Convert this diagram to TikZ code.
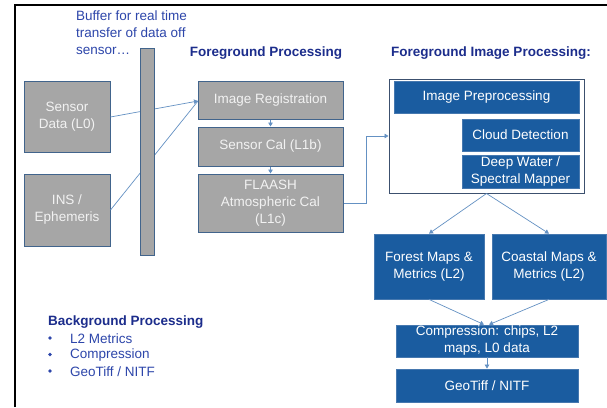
\documentclass[tikz,border=0pt]{standalone}
\usepackage{fontspec}
\setmainfont{Liberation Sans}
\usetikzlibrary{arrows.meta}

\definecolor{grayfill}{RGB}{166,166,166}
\definecolor{grayedge}{RGB}{65,100,140}
\definecolor{graytext}{RGB}{242,242,242}
\definecolor{bluefill}{RGB}{26,92,160}
\definecolor{blueedge}{RGB}{70,120,175}
\definecolor{linkblue}{RGB}{100,145,195}
\definecolor{titleblue}{RGB}{28,45,140}
\definecolor{noteblue}{RGB}{45,70,170}
\definecolor{frameedge}{RGB}{60,80,110}

\tikzset{
  txt/.style={font=\fontsize{13.5}{17}\selectfont},
  graybox/.style={txt, draw=grayedge, fill=grayfill, text=graytext, line width=1pt,
    align=center, inner sep=0pt},
  bluebox/.style={txt, draw=blueedge, fill=bluefill, text=white, line width=0.8pt,
    align=center, inner sep=0pt},
  heading/.style={font=\bfseries\fontsize{13.5}{17}\selectfont, text=titleblue, inner sep=0pt},
  link/.style={draw=linkblue, line width=0.7pt},
  linkarrow/.style={link, -{Triangle[length=4pt,width=4.5pt]}},
}

\begin{document}
\begin{tikzpicture}[x=1pt,y=-1pt]
\useasboundingbox (0,0) rectangle (607,407);
\fill[white] (0,0) rectangle (607,407);

% page frame (top and left rules)
\draw[line width=2pt, black] (15,407) -- (15,5) -- (607,5);

% buffer caption
\node[txt, text=noteblue, align=left, anchor=north west, inner sep=0pt] (bufcap) at (76,11)
  {Buffer for real time\\transfer of data off\\sensor…};

% input boxes
\node[graybox, minimum width=86, minimum height=71] (sdata) at (67,116.5) {Sensor\\Data (L0)};
\node[graybox, minimum width=86, minimum height=72] (ins) at (67,210) {INS /\\Ephemeris};

% foreground processing chain
\node[heading] (fgtitle) at (266,53) {Foreground Processing};
\node[graybox, minimum width=145, minimum height=38] (imgreg) at (270.5,100) {Image Registration};
\node[graybox, minimum width=145, minimum height=39] (scal) at (270.5,146.5) {Sensor Cal (L1b)};
\node[graybox, minimum width=145, minimum height=58] (flaash) at (270.5,203) {FLAASH\\Atmospheric Cal\\(L1c)};

% inputs into registration (pass behind the buffer bar)
\coordinate (regin) at (198,101);
\draw[linkarrow] (sdata.east |- 0,117) -- (regin);
\draw[link] (ins.east |- 0,210) -- (regin);

% buffer bar
\node[graybox, minimum width=14, minimum height=207] (buffer) at (147,151.5) {};

\draw[linkarrow] (imgreg) -- (scal);
\draw[linkarrow] (scal) -- (flaash);

% foreground image processing group
\node[heading] (fiptitle) at (491,53) {Foreground Image Processing:};
\node[draw=frameedge, fill=white, line width=1pt, minimum width=195, minimum height=114, inner sep=0pt]
  (fip) at (486.5,136) {};
\node[bluebox, minimum width=185, minimum height=32] (prep) at (486.5,97) {Image Preprocessing};
\node[bluebox, minimum width=117, minimum height=32] (cloud) at (520.5,135) {Cloud Detection};
\node[bluebox, minimum width=117, minimum height=33] (deep) at (520.5,171.5) {Deep Water /\\Spectral Mapper};

% FLAASH output into the group
\coordinate (bend1) at (366,203);
\coordinate (bend2) at (366,136);
\draw[linkarrow] (flaash.east |- bend1) -- (bend1) -- (bend2) -- (fip.west |- bend2);

% level-2 products
\node[bluebox, minimum width=110, minimum height=65] (forest) at (429,266.5) {Forest Maps \&\\Metrics (L2)};
\node[bluebox, minimum width=114, minimum height=65] (coastal) at (549,266.5) {Coastal Maps \&\\Metrics (L2)};
\draw[linkarrow] (fip.south) -- (forest.north);
\draw[linkarrow] (fip.south) -- (coastal.north);

\node[bluebox, minimum width=182, minimum height=32] (compress) at (487,341) {Compression: chips, L2\\maps, L0 data};
\node[bluebox, minimum width=182, minimum height=33] (geotiff) at (487,385.5) {GeoTiff / NITF};
\draw[linkarrow] (forest.south) -- ([xshift=-3pt]compress.north);
\draw[linkarrow] (coastal.south) -- ([xshift=2pt]compress.north);
\draw[linkarrow] (compress) -- (geotiff);

% background processing list
\node[heading, anchor=west] (bgtitle) at (48,322) {Background Processing};
\node[txt, text=noteblue, anchor=west, inner sep=0pt] (b1) at (70,339) {L2 Metrics};
\node[txt, text=noteblue, anchor=west, inner sep=0pt] (b2) at (70,355.5) {Compression};
\node[txt, text=noteblue, anchor=west, inner sep=0pt] (b3) at (70,372) {GeoTiff / NITF};
\foreach \n in {b1,b2,b3}
  \fill[noteblue] ([yshift=1pt]50,0 |- \n.west) circle (1.9pt);
\end{tikzpicture}
\end{document}
